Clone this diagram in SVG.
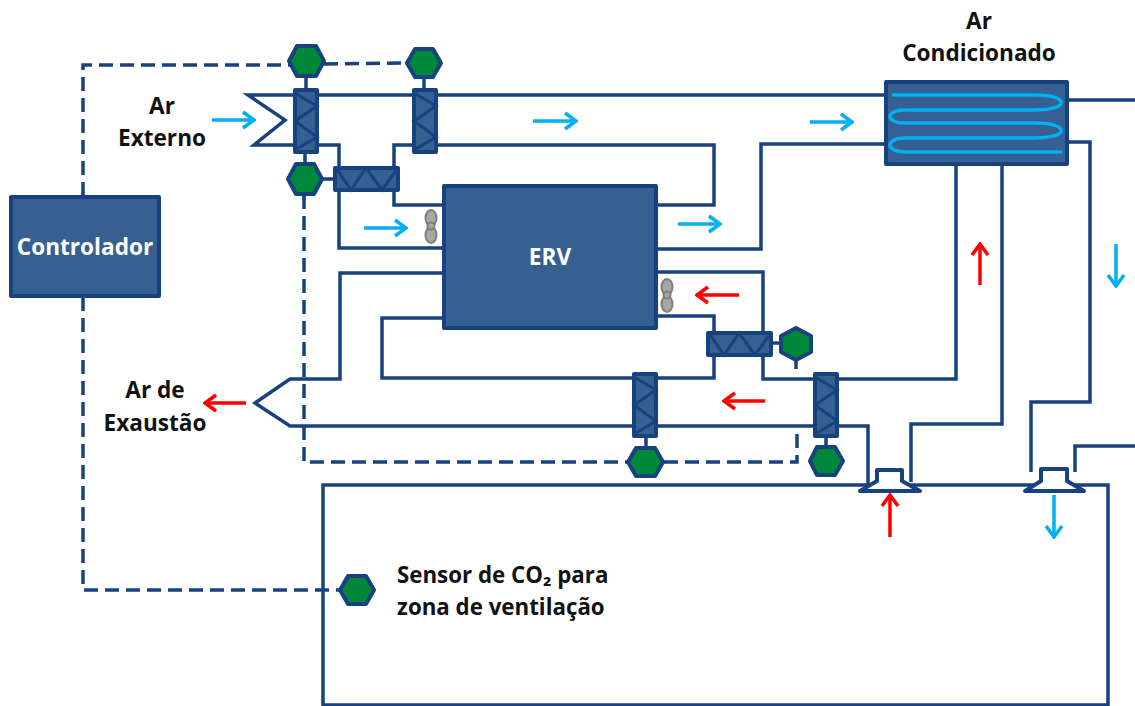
<svg xmlns="http://www.w3.org/2000/svg" xmlns:xlink="http://www.w3.org/1999/xlink" width="1135" height="706" viewBox="0 0 1135 706">
<style>
.l{fill:none;stroke:#17417f;stroke-width:3.5;stroke-linejoin:miter}
.d{fill:none;stroke:#17417f;stroke-width:3.5;stroke-dasharray:14 7}
.b{fill:#376092;stroke:#17417f;stroke-width:4;stroke-linejoin:round}
.z{fill:none;stroke:#17417f;stroke-width:3}
.h{fill:#00883a;stroke:#17417f;stroke-width:4;stroke-linejoin:round}
.t{font-family:"Open Sans","Liberation Sans",sans-serif;font-weight:700;font-size:22.6px;fill:#111;text-anchor:middle}
.w{fill:#fff}
.f{fill:#a6a6a6;stroke:#7f7f7f;stroke-width:2}
.ab{fill:none;stroke:#00b0f0;stroke-width:3.5;marker-end:url(#mb)}
.ar{fill:none;stroke:#f00;stroke-width:3.5;marker-end:url(#mr)}
</style>
<defs>
<marker id="mb" markerUnits="userSpaceOnUse" markerWidth="16" markerHeight="20" refX="14" refY="10" orient="auto"><path d="M3 2L14 10L3 18" fill="none" stroke="#00b0f0" stroke-width="3.5"/></marker>
<marker id="mr" markerUnits="userSpaceOnUse" markerWidth="16" markerHeight="20" refX="14" refY="10" orient="auto"><path d="M3 2L14 10L3 18" fill="none" stroke="#f00" stroke-width="3.5"/></marker>
<g id="dv"><rect class="b" x="0" y="0" width="22" height="62"/><path class="z" d="M0 3L22 16L0 31L22 47L0 60"/></g>
<g id="dh"><rect class="b" x="0" y="0" width="63" height="22"/><path class="z" d="M1 0L16 22L31 0L47 22L63 0"/></g>
</defs>
<g id="room"><rect class="l" x="323" y="485" width="785" height="220"/></g>
<g id="connectors">
<path class="l" d="M886 95H248L285 120L254 145H295"/>
<path class="l" d="M317 145H339V248H444"/>
<path class="l" d="M413 145H394V205H444"/>
<path class="l" d="M436 145H714V205H656"/>
<path class="l" d="M656 249H761V144H886"/>
<path class="l" d="M1067 100H1135"/>
<path class="l" d="M1067 142H1090V402H1031V472"/>
<path class="l" d="M1002 164V424H911V482"/>
<path class="l" d="M956 164V379H763V272H656"/>
<path class="l" d="M656 316H714V378H382V318H444"/>
<path class="l" d="M444 273H340V379H290L255 403L290 426H868V484"/>
<path class="l" d="M1075 472V446H1135"/>
<path class="l" d="M306 78V90M424 78V90M646 435V447M826 435V446M771 343H780M317 179H335"/>
<path class="d" d="M83 196V65H290"/>
<path class="d" d="M324 64L406 63"/>
<path class="d" d="M83 297V590H340"/>
<path class="d" d="M305 152V163"/>
<path class="d" d="M304 195V462H628"/>
<path class="d" d="M664 462H797V426"/>
<path class="l" d="M796 360V372" stroke-dasharray="9 4"/>
</g>
<g id="controlador"><rect class="b" x="11" y="197" width="148" height="99"/><text class="t w" x="85" y="255">Controlador</text></g>
<g id="erv"><rect class="b" x="444" y="186" width="212" height="142"/><text class="t w" x="550" y="265">ERV</text></g>
<g id="ac"><rect class="b" x="886" y="82" width="181" height="82"/><path d="M892 95H1035C1070 95 1070 110 1035 110H905C885 110 885 123 905 123H1035C1070 123 1070 138 1035 138H905C885 138 885 152 905 152H1062" fill="none" stroke="#00b0f0" stroke-width="3.5"/></g>
<g id="damper-1"><use xlink:href="#dv" href="#dv" x="295" y="90"/></g>
<g id="damper-2"><use xlink:href="#dv" href="#dv" x="414" y="90"/></g>
<g id="damper-3"><use xlink:href="#dv" href="#dv" x="634" y="374"/></g>
<g id="damper-4"><use xlink:href="#dv" href="#dv" x="815" y="374"/></g>
<g id="damper-5"><use xlink:href="#dh" href="#dh" x="335" y="168"/></g>
<g id="damper-6"><use xlink:href="#dh" href="#dh" x="708" y="333"/></g>
<g id="hex-1"><polygon class="h" points="289,61 297,46 316,46 324,61 316,76 297,76"/></g>
<g id="hex-2"><polygon class="h" points="407,63 415,49 433,49 441,63 433,77 415,77"/></g>
<g id="hex-3"><polygon class="h" points="288,179 296,164 314,164 322,179 314,194 296,194"/></g>
<g id="hex-4"><polygon class="h" points="796,328 811,336 811,352 796,360 781,352 781,336"/></g>
<g id="hex-5"><polygon class="h" points="628,462 636,448 655,448 663,462 655,476 636,476"/></g>
<g id="hex-6"><polygon class="h" points="810,461 817,447 835,447 843,461 835,475 817,475"/></g>
<g id="hex-7"><polygon class="h" points="340,590 348,576 366,576 374,590 366,604 348,604"/></g>
<g id="fan-1"><ellipse class="f" cx="431" cy="218" rx="5.5" ry="8"/><ellipse class="f" cx="431" cy="235" rx="5.5" ry="8"/><circle class="f" cx="431" cy="226" r="3.5"/></g>
<g id="fan-2"><ellipse class="f" cx="667" cy="287" rx="5.5" ry="8"/><ellipse class="f" cx="667" cy="304" rx="5.5" ry="8"/><circle class="f" cx="667" cy="295" r="3.5"/></g>
<g id="diffuser-1"><path d="M860 491L877 481V470H902V481L920 491Z" fill="#fff" stroke="#17417f" stroke-width="4" stroke-linejoin="round"/></g>
<g id="diffuser-2"><path d="M1025 491L1041 481V469H1067V481L1084 491Z" fill="#fff" stroke="#17417f" stroke-width="4" stroke-linejoin="round"/></g>
<g id="arrows">
<path class="ab" d="M212 120H254"/><path class="ab" d="M533 121H576"/><path class="ab" d="M810 122H852"/><path class="ab" d="M364 228H406"/><path class="ab" d="M678 224H720"/><path class="ab" d="M1116 244V286"/><path class="ab" d="M1054 495V537"/>
<path class="ar" d="M739 295H697"/><path class="ar" d="M765 401H724"/><path class="ar" d="M246 403H205"/><path class="ar" d="M980 285V244"/><path class="ar" d="M890 537V495"/>
</g>
<g id="labels">
<text class="t" x="162" y="114">Ar</text><text class="t" x="162" y="146">Externo</text>
<text class="t" x="155" y="398">Ar de</text><text class="t" x="155" y="431">Exaustão</text>
<text class="t" x="979" y="29">Ar</text><text class="t" x="979" y="61">Condicionado</text>
<text class="t" x="397" y="583" style="text-anchor:start;font-size:22.3px">Sensor de CO₂ para</text>
<text class="t" x="397" y="615" style="text-anchor:start;font-size:22.3px">zona de ventilação</text>
</g>
</svg>
